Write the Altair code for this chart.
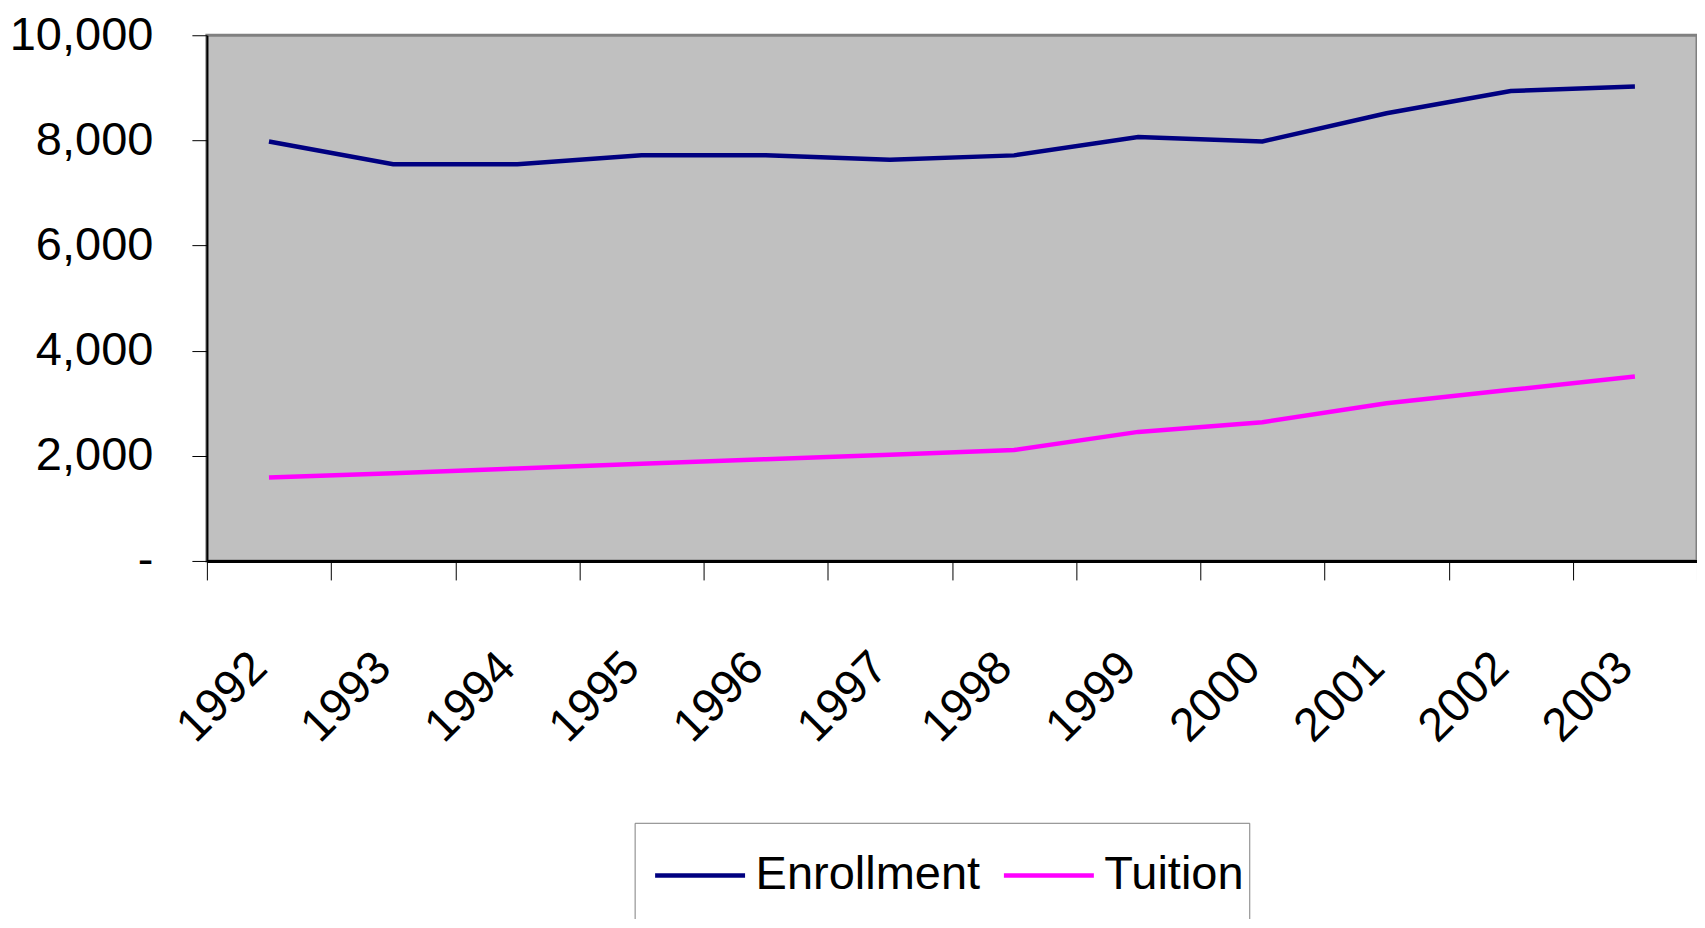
import altair as alt
import pandas as pd

years = ["1992", "1993", "1994", "1995", "1996", "1997",
         "1998", "1999", "2000", "2001", "2002", "2003"]
enrollment = [7980, 7545, 7545, 7715, 7715, 7630, 7715, 8065, 7980, 8515, 8940, 9025]
tuition = [1585, 1670, 1760, 1850, 1935, 2020, 2110, 2455, 2640, 3000, 3255, 3510]
series_names = ["Enrollment", "Tuition"]
series_colors = ["#000080", "#FF00FF"]
y_ticks = [0, 2000, 4000, 6000, 8000, 10000]

rows = []
for i, yr in enumerate(years):
    rows.append({"year": yr, "series": "Enrollment", "value": enrollment[i]})
    rows.append({"year": yr, "series": "Tuition", "value": tuition[i]})
df = pd.DataFrame(rows)

FONT = "Liberation Sans, Arial, sans-serif"
FS = 47

chart = alt.Chart(df).mark_line(strokeWidth=4.5).encode(
    x=alt.X("year:O", bandPosition=0.5,
            scale=alt.Scale(type="band", paddingInner=0, paddingOuter=0),
            sort=years,
            axis=alt.Axis(title=None, labelAngle=-45, labelAlign="right", labelBaseline="middle",
                          tickBand="extent", tickSize=19, tickColor="black", tickWidth=1,
                          domainColor="black", domainWidth=3,
                          labelFontSize=FS, labelFont=FONT, labelPadding=80, labelOffset=-10,
                          labelColor="black", labelOverlap=False, labelLimit=400)),
    y=alt.Y("value:Q", scale=alt.Scale(domain=[0, 10000], nice=False),
            axis=alt.Axis(title=None, values=y_ticks,
                          labelExpr="datum.value == 0 ? '-' : format(datum.value, ',')",
                          tickSize=15, tickColor="black", tickWidth=1,
                          domainColor="black", domainWidth=2, grid=False,
                          labelFontSize=FS, labelFont=FONT, labelPadding=39, labelColor="black",
                          labelOverlap=False, labelLimit=400)),
    color=alt.Color("series:N", scale=alt.Scale(domain=series_names, range=series_colors),
                    legend=alt.Legend(title=" ", titleOrient="bottom", titleFontSize=30,
                                      titlePadding=10,
                                      orient="none", legendX=428, legendY=788,
                                      direction="horizontal", symbolType="stroke",
                                      symbolSize=8100, symbolStrokeWidth=4.5, symbolOffset=13,
                                      labelFontSize=FS, labelFont=FONT, labelColor="black",
                                      labelLimit=500, strokeColor="#808080", fillColor="white",
                                      padding=5, columnPadding=8, labelOffset=8)),
).properties(
    width=1491, height=526,
    padding={"left": 199, "top": 27, "right": 0, "bottom": 358},
    autosize="none", background="white",
).configure_view(fill="#C0C0C0", stroke="#808080", strokeWidth=3)

chart.save("out.html", embed_options={"renderer": "svg", "actions": False})
